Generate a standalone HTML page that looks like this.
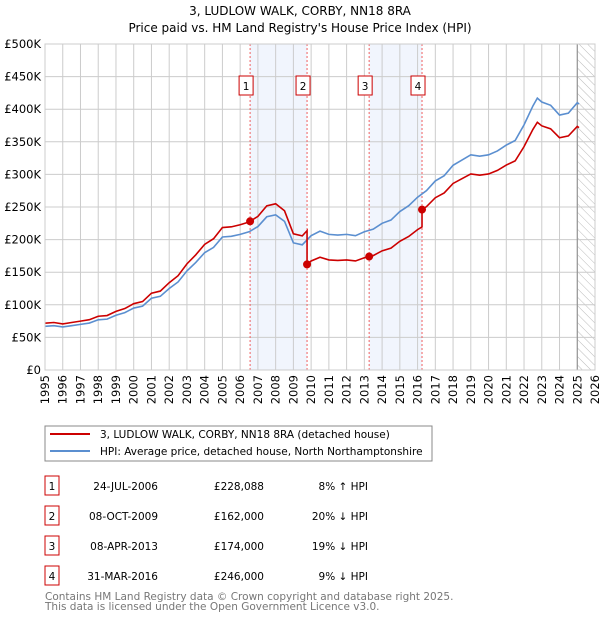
<!DOCTYPE html>
<html><head><meta charset="utf-8"><style>
body{margin:0;background:#fff;font-family:"DejaVu Sans","Liberation Sans",sans-serif;}
svg text{font-family:"DejaVu Sans","Liberation Sans",sans-serif;}
</style></head><body>
<svg id="chart" width="600" height="620" xmlns="http://www.w3.org/2000/svg">
<defs><pattern id="hatch" width="6" height="6" patternUnits="userSpaceOnUse" patternTransform="rotate(-45)"><line x1="0" y1="0" x2="0" y2="6" stroke="#bbb" stroke-width="1"/></pattern></defs>
<text x="300" y="15" text-anchor="middle" font-size="12">3, LUDLOW WALK, CORBY, NN18 8RA</text>
<text x="300" y="32" text-anchor="middle" font-size="12">Price paid vs. HM Land Registry's House Price Index (HPI)</text>
<g id="plot"></g>
<g>
<rect x="45" y="426" width="387" height="35" fill="#fff" stroke="#888"/>
<line x1="50" y1="434" x2="90" y2="434" stroke="#cc0000" stroke-width="2"/>
<text x="100" y="438" font-size="10.5">3, LUDLOW WALK, CORBY, NN18 8RA (detached house)</text>
<line x1="50" y1="451" x2="90" y2="451" stroke="#5b8fd0" stroke-width="2"/>
<text x="100" y="455" font-size="10.5">HPI: Average price, detached house, North Northamptonshire</text>
</g>
<g id="table"></g>
<text x="45" y="600" font-size="10.5" fill="#777">Contains HM Land Registry data © Crown copyright and database right 2025.</text>
<text x="45" y="610" font-size="10.5" fill="#777">This data is licensed under the Open Government Licence v3.0.</text>
</svg>
<script>
const hpiDates=[1995,1995.5,1996,1996.5,1997,1997.5,1998,1998.5,1999,1999.5,2000,2000.5,2001,2001.5,2002,2002.5,2003,2003.5,2004,2004.5,2005,2005.5,2006,2006.5,2007,2007.5,2008,2008.5,2009,2009.5,2010,2010.5,2011,2011.5,2012,2012.5,2013,2013.5,2014,2014.5,2015,2015.5,2016,2016.5,2017,2017.5,2018,2018.5,2019,2019.5,2020,2020.5,2021,2021.5,2022,2022.5,2022.75,2023,2023.5,2024,2024.5,2025,2025.1];
const hpiValues=[67,68,66,68,70,72,77,78,84,88,95,98,110,113,125,135,152,165,180,188,204,205,208,212,220,235,238,228,195,192,206,213,208,207,208,206,212,216,225,230,243,252,265,275,290,298,314,322,330,328,330,336,345,352,376,405,417,411,406,391,394,410,408];
const saleDates=[2006.56,2009.77,2013.27,2016.25];
const salePrices=[228.088,162,174,246];
const saleLabels=["1","2","3","4"];
const saleDateText=["24-JUL-2006","08-OCT-2009","08-APR-2013","31-MAR-2016"];
const salePriceText=["£228,088","£162,000","£174,000","£246,000"];
const saleHpiText=["8% ↑ HPI","20% ↓ HPI","19% ↓ HPI","9% ↓ HPI"];
const yTicks=[0,50,100,150,200,250,300,350,400,450,500];
const yTickLabels=["£0","£50K","£100K","£150K","£200K","£250K","£300K","£350K","£400K","£450K","£500K"];
const xTicks=[1995,1996,1997,1998,1999,2000,2001,2002,2003,2004,2005,2006,2007,2008,2009,2010,2011,2012,2013,2014,2015,2016,2017,2018,2019,2020,2021,2022,2023,2024,2025,2026];

const NS="http://www.w3.org/2000/svg";
const X0=45,X1=595,Y0=370,Y1=44;
const xs=d=>X0+(d-1995)/(2026-1995)*(X1-X0);
const ys=v=>Y0-v/500*(Y0-Y1);
const plot=document.getElementById('plot');
function mk(tag,attrs,parent){const e=document.createElementNS(NS,tag);for(const k in attrs)e.setAttribute(k,attrs[k]);(parent||plot).appendChild(e);return e;}
function hpiAt(d){for(let i=0;i<hpiDates.length-1;i++){if(d>=hpiDates[i]&&d<=hpiDates[i+1]){const t=(d-hpiDates[i])/(hpiDates[i+1]-hpiDates[i]);return hpiValues[i]+t*(hpiValues[i+1]-hpiValues[i]);}}return hpiValues[hpiValues.length-1];}

for(let i=0;i<saleDates.length;i+=2){
 const r=mk('rect',{x:xs(saleDates[i]),y:Y1,width:xs(saleDates[i+1])-xs(saleDates[i]),height:Y0-Y1,fill:'#eef3fd',opacity:'0.8'});
 
 
}
const h=mk('rect',{x:xs(2025.0),y:Y1,width:X1-xs(2025.0),height:Y0-Y1,fill:'url(#hatch)'});


yTicks.forEach((v,i)=>{
 const l=mk('line',{x1:X0,x2:X1,y1:ys(v),y2:ys(v),stroke:'#ccc'});
 
 
 const t=mk('text',{x:X0-4,y:ys(v)+4,'text-anchor':'end','font-size':'11.5'});
 t.textContent=yTickLabels[i];
 
 
});
xTicks.forEach(d=>{
 const l=mk('line',{x1:xs(d),x2:xs(d),y1:Y1,y2:Y0,stroke:'#ccc'});
 
 
 const t=mk('text',{x:0,y:0,'text-anchor':'end','font-size':'11.5',transform:`translate(${xs(d)+4},${Y0+5}) rotate(-90)`});
 t.textContent=d;
 
 
});
const vl=mk('line',{x1:xs(2025.0),x2:xs(2025.0),y1:Y1,y2:Y0,stroke:'#888','stroke-width':1});


saleDates.forEach(d=>{
 const l=mk('line',{x1:xs(d),x2:xs(d),y1:Y1,y2:Y0,stroke:'#f06060','stroke-dasharray':'2,2','stroke-width':1});
 
 
});
const hp=mk('polyline',{points:hpiDates.map((d,i)=>xs(d)+','+ys(hpiValues[i])).join(' '),fill:'none',stroke:'#5b8fd0','stroke-width':1.6});


const ratios=saleDates.map((d,i)=>salePrices[i]/hpiAt(d));
function ratioFor(d){let r=ratios[0];for(let i=0;i<saleDates.length;i++){if(d>=saleDates[i])r=ratios[i];}return r;}
let all=hpiDates.slice();saleDates.forEach(d=>all.push(d));all.sort((a,b)=>a-b);
let pts=[];
all.forEach(d=>{
 const si=saleDates.indexOf(d);
 if(si>0){pts.push([d,hpiAt(d)*ratios[si-1]]);}
 pts.push([d,hpiAt(d)*ratioFor(d)]);
});
const rp=mk('polyline',{points:pts.map(p=>xs(p[0])+','+ys(p[1])).join(' '),fill:'none',stroke:'#cc0000','stroke-width':1.6});


saleDates.forEach((d,i)=>{
 const c=mk('circle',{cx:xs(d),cy:ys(salePrices[i]),r:4,fill:'#cc0000'});
 
 
 const b=mk('rect',{x:xs(d)-11,y:76,width:14,height:19,fill:'#fff',stroke:'#cc0000'});
 
 
 const t=mk('text',{x:xs(d)-4,y:90,'text-anchor':'middle','font-size':'10.5'});
 t.textContent=saleLabels[i];
 
 
});
const fr=mk('rect',{x:X0,y:Y1,width:X1-X0,height:Y0-Y1,fill:'none',stroke:'#ccc'});


const tb=document.getElementById('table');
saleDates.forEach((d,i)=>{
 const y=476+i*30;
 const b=mk('rect',{x:45,y:y,width:14,height:19,fill:'#fff',stroke:'#cc0000'},tb);
 
 
 const n=mk('text',{x:52,y:y+14,'text-anchor':'middle','font-size':'10.5'},tb);
 n.textContent=saleLabels[i];
 
 
 const a=mk('text',{x:158,y:y+14,'text-anchor':'end','font-size':'10.5'},tb);
 a.textContent=saleDateText[i];
 
 
 const p=mk('text',{x:264,y:y+14,'text-anchor':'end','font-size':'10.5'},tb);
 p.textContent=salePriceText[i];
 
 
 const q=mk('text',{x:368,y:y+14,'text-anchor':'end','font-size':'10.5'},tb);
 q.textContent=saleHpiText[i];
 
 
});
</script>
</body></html>
